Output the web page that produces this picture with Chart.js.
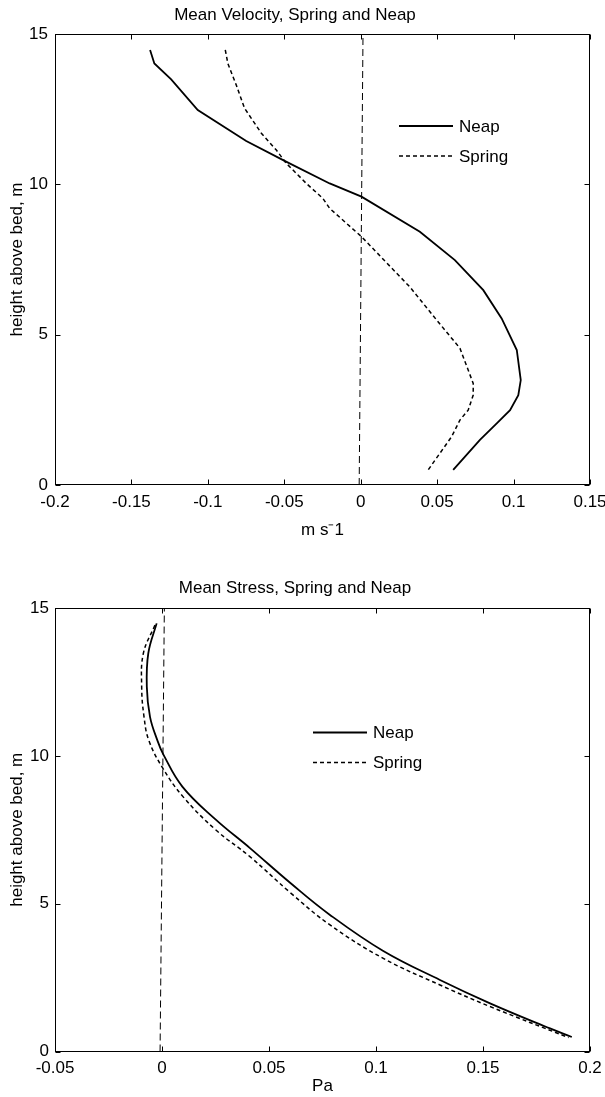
<!DOCTYPE html>
<html><head><meta charset="utf-8">
<script src="https://cdn.jsdelivr.net/npm/chart.js@4"></script>
<style>
html,body{margin:0;padding:0;background:#fff;overflow:hidden;}
#w1{position:absolute;left:0;top:0;width:605px;height:545px;}
#w2{position:absolute;left:0;top:545px;width:605px;height:552px;}
</style></head><body>
<div id="w1"><canvas id="c1"></canvas></div>
<div id="w2"><canvas id="c2"></canvas></div>
<script>
// ---------- Data: Mean Velocity ----------
const velNeapHeight  = [14.47, 14.02, 13.49, 12.47, 11.44, 10.78, 10.03, 9.59, 8.42, 7.48, 6.48, 5.54, 4.49, 3.49, 2.99, 2.49, 2.05, 1.50, 0.50];
const velNeapValue   = [-0.1378, -0.1350, -0.1240, -0.1066, -0.0749, -0.0498, -0.0203, 0.0005, 0.0387, 0.0616, 0.0802, 0.0922, 0.1021, 0.1047, 0.1031, 0.0977, 0.0890, 0.0780, 0.0605];
const velSpringHeight = [14.47, 14.02, 13.30, 12.53, 11.70, 11.14, 10.70, 10.03, 9.53, 9.20, 8.26, 6.59, 5.49, 4.82, 4.55, 3.38, 2.99, 2.49, 2.16, 1.61, 0.50];
const velSpringValue  = [-0.0886, -0.0869, -0.0814, -0.0760, -0.0650, -0.0552, -0.0487, -0.0356, -0.0247, -0.0203, 0.0005, 0.0321, 0.0496, 0.0605, 0.0649, 0.0736, 0.0736, 0.0703, 0.0649, 0.0595, 0.0441];
const velZeroHeight = [0, 15];
const velZeroValue  = [-0.001, 0.0015];
const velXTicks = [-0.2, -0.15, -0.1, -0.05, 0, 0.05, 0.1, 0.15];
const velXTickLabels = ['-0.2', '-0.15', '-0.1', '-0.05', '0', '0.05', '0.1', '0.15'];

// ---------- Data: Mean Stress ----------
const strNeapHeight  = [14.48, 13.47, 12.34, 11.32, 10.53, 10.05, 8.96, 7.85, 6.88, 5.70, 4.62, 3.40, 2.42, 1.63, 0.78, 0.49];
const strNeapValue   = [-0.0025, -0.0064, -0.0071, -0.0056, -0.0022, 0.0006, 0.0095, 0.0250, 0.0411, 0.0600, 0.0785, 0.1034, 0.1299, 0.1533, 0.1813, 0.1915];
const strSpringHeight = [14.42, 13.47, 12.34, 11.32, 10.53, 9.59, 8.62, 7.49, 6.59, 5.37, 4.28, 3.15, 2.25, 1.52, 0.47];
const strSpringValue  = [-0.0033, -0.0087, -0.0095, -0.0084, -0.0062, 0.0003, 0.0098, 0.0252, 0.0411, 0.0600, 0.0785, 0.1034, 0.1299, 0.1533, 0.1900];
const strZeroHeight = [0, 15];
const strZeroValue  = [-0.0009, 0.0011];
const strXTicks = [-0.05, 0, 0.05, 0.1, 0.15, 0.2];
const strXTickLabels = ['-0.05', '0', '0.05', '0.1', '0.15', '0.2'];

const yTicks = [0, 5, 10, 15];
const yTickLabels = ['0', '5', '10', '15'];
const seriesLabels = ['Neap', 'Spring'];

// ---------- helpers ----------
const pts = (vals, hs) => vals.map((v, i) => ({x: v, y: hs[i]}));
Chart.defaults.font.family = "'Liberation Sans', Arial, Helvetica, sans-serif";
Chart.defaults.font.size = 17;
Chart.defaults.color = '#000';

const boxPlugin = {
  id: 'boxPlugin',
  afterDatasetsDraw(chart, args, o) {
    const {ctx, chartArea: a, scales} = chart;
    const x = scales.x, y = scales.y;
    ctx.save();
    ctx.strokeStyle = '#000';
    ctx.lineWidth = 1;
    ctx.setLineDash([]);
    const L = Math.round(a.left) + 0.5, R = Math.round(a.right) - 0.5;
    const T = Math.round(a.top) + 0.5, B = Math.round(a.bottom) - 0.5;
    ctx.strokeRect(L, T, R - L, B - T);
    const tl = 5;
    ctx.beginPath();
    x.ticks.forEach(t => {
      const p = Math.round(x.getPixelForValue(t.value)) + 0.5;
      ctx.moveTo(p, B); ctx.lineTo(p, B - tl);
      ctx.moveTo(p, T); ctx.lineTo(p, T + tl);
    });
    y.ticks.forEach(t => {
      const p = Math.round(y.getPixelForValue(t.value)) + 0.5;
      ctx.moveTo(L, p); ctx.lineTo(L + tl, p);
      ctx.moveTo(R, p); ctx.lineTo(R - tl, p);
    });
    ctx.stroke();
    // legend
    const lg = o.legend;
    ctx.font = "17px 'Liberation Sans', Arial, sans-serif";
    ctx.fillStyle = '#000';
    ctx.textBaseline = 'middle';
    ctx.textAlign = 'left';
    [0, 1].forEach(i => {
      const ds = chart.data.datasets[i];
      const yy = a.top + lg.rows[i];
      ctx.beginPath();
      ctx.lineWidth = ds.borderWidth;
      ctx.setLineDash(ds.borderDash || []);
      ctx.moveTo(a.left + lg.x1, yy);
      ctx.lineTo(a.left + lg.x2, yy);
      ctx.stroke();
      ctx.fillText(ds.label, a.left + lg.tx, yy + 1);
    });
    ctx.restore();
  }
};

function makeChart(id, cfg) {
  const datasets = [
    {label: seriesLabels[0], data: pts(cfg.neapV, cfg.neapH), borderColor: '#000', borderWidth: 1.8, tension: cfg.tension, showLine: true, pointRadius: 0, fill: false},
    {label: seriesLabels[1], data: pts(cfg.springV, cfg.springH), borderColor: '#000', borderWidth: 1.5, borderDash: [4, 3], tension: cfg.tension, showLine: true, pointRadius: 0, fill: false},
    {label: 'zero', data: pts(cfg.zeroV, cfg.zeroH), borderColor: '#000', borderWidth: 1, borderDash: [7, 4], showLine: true, pointRadius: 0, fill: false}
  ];
  return new Chart(document.getElementById(id), {
    type: 'scatter',
    data: {datasets},
    plugins: [boxPlugin],
    options: {
      responsive: true,
      maintainAspectRatio: false,
      animation: false,
      devicePixelRatio: 1,
      events: [],
      layout: {padding: {left: 0, right: 15, top: 0, bottom: 0}},
      plugins: {
        legend: {display: false},
        tooltip: {enabled: false},
        title: {display: true, text: cfg.title, font: {size: 17, weight: 'normal'}, color: '#000', padding: cfg.titlePad},
        boxPlugin: {legend: cfg.legend}
      },
      scales: {
        x: {
          type: 'linear', min: cfg.xTicks[0], max: cfg.xTicks[cfg.xTicks.length - 1],
          grid: {display: false, drawTicks: false}, border: {display: false},
          afterBuildTicks: s => { s.ticks = cfg.xTicks.map(v => ({value: v})); },
          ticks: {padding: cfg.xTickPad, autoSkip: false, maxRotation: 0, font: {size: 17}, color: '#000',
                  callback: (v, i) => cfg.xLabels[i]},
          title: {display: true, text: cfg.xTitle, font: {size: 17}, color: '#000', padding: {top: 0, bottom: cfg.xTitlePad}},
          afterFit: s => { s.height = cfg.xHeight; s.paddingLeft = 0; s.paddingRight = 0; }
        },
        y: {
          type: 'linear', min: 0, max: 15,
          grid: {display: false, drawTicks: false}, border: {display: false},
          afterBuildTicks: s => { s.ticks = yTicks.map(v => ({value: v})); },
          ticks: {padding: cfg.yTickPad, font: {size: 17}, color: '#000', callback: (v, i) => yTickLabels[i]},
          title: {display: true, text: 'height above bed, m', font: {size: 17}, color: '#000', padding: {top: 6.8, bottom: 0}},
          afterFit: s => { s.width = 55; s.paddingTop = 0; s.paddingBottom = 0; }
        }
      }
    }
  });
}

makeChart('c1', {
  title: 'Mean Velocity, Spring and Neap', titlePad: {top: 4.8, bottom: 8.8},
  neapH: velNeapHeight, neapV: velNeapValue, springH: velSpringHeight, springV: velSpringValue,
  zeroH: velZeroHeight, zeroV: velZeroValue, tension: 0,
  xTicks: velXTicks, xLabels: velXTickLabels, xTitle: 'm s\u207B1',
  xHeight: 60, xTickPad: 6.8, xTitlePad: 4.8, yTickPad: 7,
  legend: {x1: 344, x2: 398, tx: 404, rows: [92, 122]}
});

makeChart('c2', {
  title: 'Mean Stress, Spring and Neap', titlePad: {top: 32.8, bottom: 9.8},
  neapH: strNeapHeight, neapV: strNeapValue, springH: strSpringHeight, springV: strSpringValue,
  zeroH: strZeroHeight, zeroV: strZeroValue, tension: 0.4,
  xTicks: strXTicks, xLabels: strXTickLabels, xTitle: 'Pa',
  xHeight: 45.5, xTickPad: 6.3, xTitlePad: 0, yTickPad: 6,
  legend: {x1: 258, x2: 312, tx: 318, rows: [124.5, 154.6]}
});
</script>
</body></html>
